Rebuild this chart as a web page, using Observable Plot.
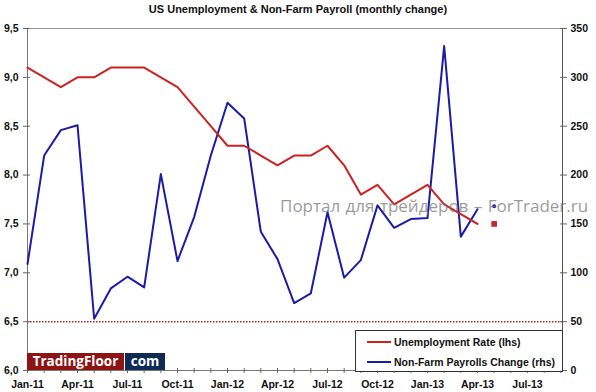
<!DOCTYPE html>
<html><head><meta charset="utf-8">
<script src="https://cdn.jsdelivr.net/npm/d3@7"></script>
<script src="https://cdn.jsdelivr.net/npm/@observablehq/plot@0.6"></script>
<style>
body{margin:0;background:#fff;font-family:"Liberation Sans",Arial,sans-serif;}
#wrap{position:relative;width:596px;height:392px;overflow:hidden;background:#fff}
#title{height:20px;line-height:19px;text-align:center;font-weight:bold;font-size:11px;color:#111}
#wm{position:absolute;left:280px;top:194px;font-family:"Open Sans",sans-serif;font-size:17px;line-height:normal;word-spacing:1px;color:rgba(120,120,120,0.75);white-space:nowrap;pointer-events:none}
#logo{position:absolute;left:27px;top:353px;height:17px;display:flex;font-weight:bold;font-size:13.5px;color:#fff;font-family:"Open Sans",sans-serif}
#logo .tf{background:#8c1414;width:97px;text-align:center;line-height:17px}
#logo .com{background:#0e2a55;width:40px;margin-left:1px;text-align:center;line-height:17px}
#legend{position:absolute;left:355px;top:330px;width:206px;height:40px;border:1px solid #333;background:#fff;font-weight:bold;font-size:10.5px;color:#111}
#legend .row{position:absolute;left:11px;display:flex;align-items:center;height:14px}
#legend .sw{width:24px;height:2px;margin-right:3px}
</style></head><body>
<div id="wrap">
<div id="title">US Unemployment &amp; Non-Farm Payroll (monthly change)</div>
<div id="chart"></div>
<div id="logo"><span class="tf">TradingFloor</span><span class="com">com</span></div>
<div id="legend">
  <div class="row" style="top:4px"><span class="sw" style="background:#cc2222"></span>Unemployment Rate (lhs)</div>
  <div class="row" style="top:24px"><span class="sw" style="background:#1b1ba8"></span>Non-Farm Payrolls Change (rhs)</div>
</div>
<div id="wm">Портал для трейдеров – ForTrader.ru</div>
</div>
<script>
const months = ["Jan-11","Feb-11","Mar-11","Apr-11","May-11","Jun-11","Jul-11","Aug-11","Sep-11","Oct-11","Nov-11","Dec-11",
  "Jan-12","Feb-12","Mar-12","Apr-12","May-12","Jun-12","Jul-12","Aug-12","Sep-12","Oct-12","Nov-12","Dec-12",
  "Jan-13","Feb-13","Mar-13","Apr-13","May-13","Jun-13","Jul-13","Aug-13","Sep-13"];
// Jan-11 .. Apr-13
const unemployment = [9.1,9.0,8.9,9.0,9.0,9.1,9.1,9.1,9.0,8.9,8.7,8.5,
  8.3,8.3,8.2,8.1,8.2,8.2,8.3,8.1,7.8,7.9,7.7,7.8,
  7.9,7.7,7.6,7.5];
const payrolls = [109,220,246,251,53,84,96,85,201,112,157,220,
  274,258,142,114,69,79,162,95,113,169,146,155,
  156,332,137,165];
// May-13 separate markers
const unemploymentLatest = [7.5];
const payrollsLatest = [168];
const latestIndex = 28;
const refLevel = [6.5];
const leftTicks = [6.0,6.5,7.0,7.5,8.0,8.5,9.0,9.5];
const rightTicks = [0,50,100,150,200,250,300,350];

const red = "#cc2222", blue = "#1b1ba8";
// right axis (0..350) mapped onto left domain (6..9.5)
const toLeft = d3.scaleLinear([0, 350], [6, 9.5]);

const uData = unemployment.map((v, i) => ({i, v}));
const pData = payrolls.map((v, i) => ({i, v: toLeft(v)}));
const xMax = 32.1;

const chart = Plot.plot({
  width: 596, height: 372,
  marginTop: 8, marginBottom: 22, marginLeft: 27, marginRight: 34,
  style: {fontFamily: "'Liberation Sans', Arial, sans-serif", fontSize: "10.5px", fontWeight: "bold", color: "#111", background: "#fff"},
  x: {domain: [0, xMax], axis: null},
  y: {domain: [6, 9.5], axis: null},
  marks: [
    Plot.ruleY([9.5], {stroke: "#999", strokeWidth: 1}),
    Plot.ruleY([6], {stroke: "#777", strokeWidth: 1}),
    Plot.ruleX([0], {stroke: "#777", strokeWidth: 1}),
    Plot.ruleX([xMax], {stroke: "#555", strokeWidth: 1}),
    Plot.ruleY(refLevel, {stroke: "#b02828", strokeWidth: 1.5, strokeDasharray: "1.5,1.5"}),
    Plot.axisY({anchor: "left", ticks: leftTicks, tickSize: 4, tickPadding: 5, tickFormat: d => d3.format(".1f")(d).replace(".", ","), label: null, stroke: "#666"}),
    Plot.axisY({anchor: "left", ticks: leftTicks, tickSize: -3, tickFormat: () => "", label: null, stroke: "#666"}),
    Plot.axisY({anchor: "right", ticks: rightTicks.map(toLeft), tickSize: 4, tickPadding: 4, tickFormat: d => d3.format("d")(Math.round(toLeft.invert(d))), label: null, stroke: "#666"}),
    Plot.axisY({anchor: "right", ticks: rightTicks.map(toLeft), tickSize: -3, tickFormat: () => "", label: null, stroke: "#666"}),
    Plot.axisX({ticks: d3.range(0, 33), tickSize: 3, tickFormat: () => "", label: null, stroke: "#666"}),
    Plot.axisX({ticks: d3.range(0, 33), tickSize: -2, tickFormat: () => "", label: null, stroke: "#666"}),
    Plot.axisX({ticks: d3.range(0, 33, 3), tickSize: 0, tickPadding: 10, tickFormat: i => months[i], label: null}),
    Plot.line(pData, {x: "i", y: "v", stroke: blue, strokeWidth: 2}),
    Plot.line(uData, {x: "i", y: "v", stroke: red, strokeWidth: 2}),
    Plot.dot(unemploymentLatest, {x: () => latestIndex, y: d => d, symbol: "square", r: 3.2, fill: red, stroke: null}),
    Plot.dot(payrollsLatest, {x: () => latestIndex, y: d => toLeft(d), r: 2, fill: blue, stroke: null})
  ]
});
document.getElementById("chart").appendChild(chart);
</script>
</body></html>
